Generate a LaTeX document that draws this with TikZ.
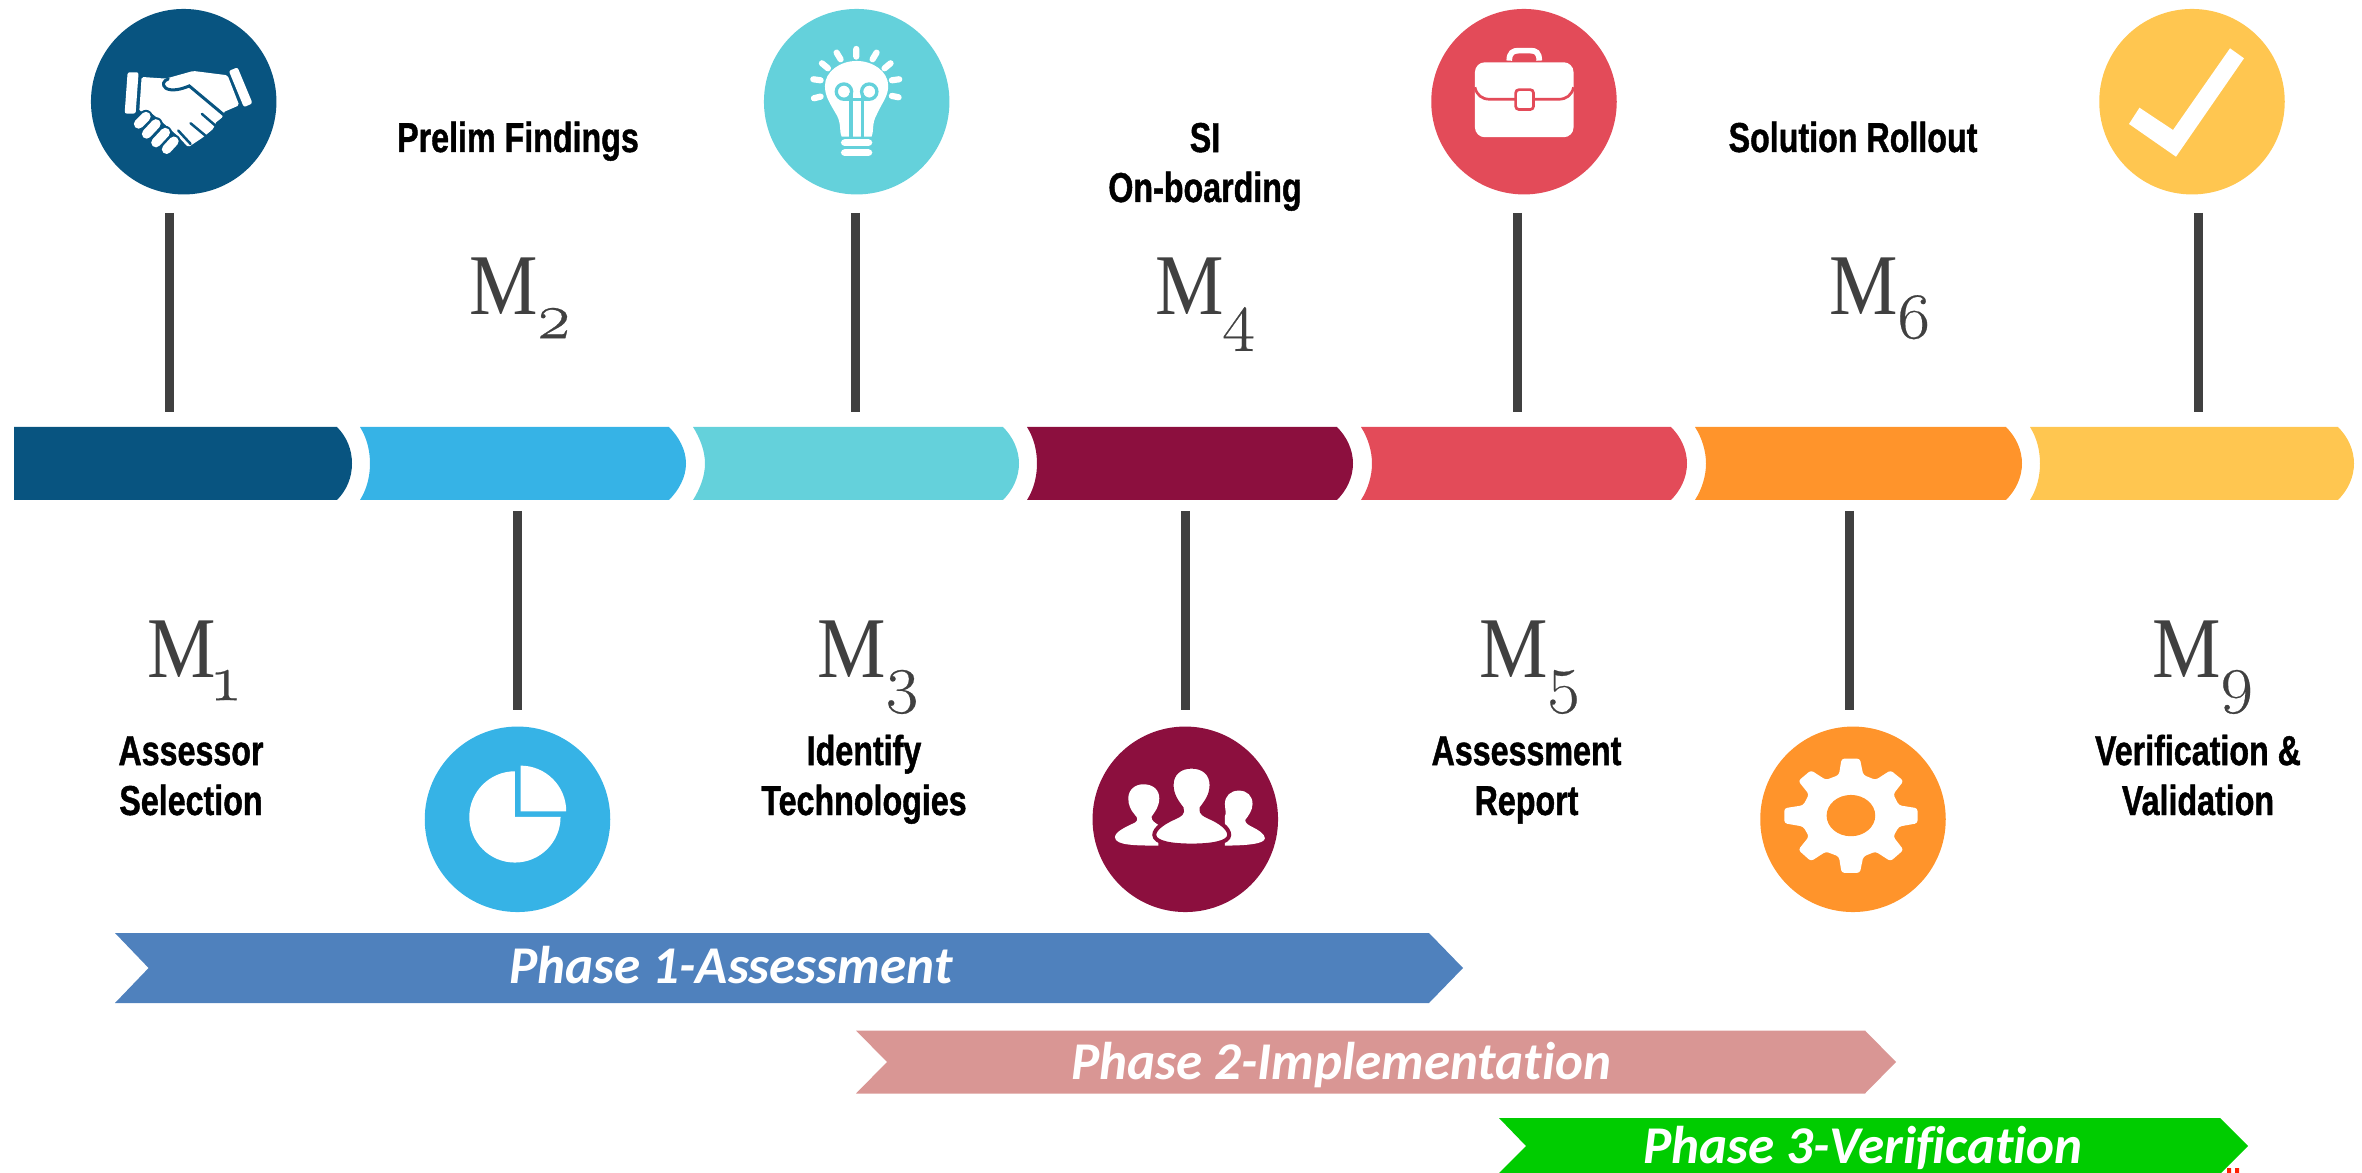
\documentclass[tikz,border=0pt]{standalone}
\usepackage{fontspec}
\newfontfamily\labelfont[FakeStretch=0.77,FakeBold=1]{Liberation Sans}
\newfontfamily\phasefont[Ligatures=NoCommon]{Carlito}
\newfontfamily\milefont[FakeStretch=0.89]{Liberation Serif}
\newfontfamily\subfont[Numbers=OldStyle,FakeStretch=1.08,FakeBold=0.4]{Latin Modern Roman}
\definecolor{deepblue}{HTML}{085480}
\definecolor{skyblue}{HTML}{36B3E6}
\definecolor{teal}{HTML}{64D1DB}
\definecolor{maroon}{HTML}{8C0F3E}
\definecolor{coral}{HTML}{E34B59}
\definecolor{tangerine}{HTML}{FF942B}
\definecolor{sunny}{HTML}{FFC650}
\definecolor{stemgray}{HTML}{404040}
\definecolor{phaseone}{HTML}{4F81BD}
\definecolor{phasetwo}{HTML}{D99694}
\definecolor{phasethree}{HTML}{00CC00}
\tikzset{
	disc/.style={circle,minimum size=1.854cm,inner sep=0pt},
	stem/.style={draw=stemgray,line width=0.9mm},
	mile/.style={anchor=base west,inner sep=0pt,text=stemgray,font=\milefont\fontsize{24.6}{28}\selectfont},
	task/.style={anchor=base,inner sep=0pt,align=center,font=\labelfont\bfseries\fontsize{11.9}{14.2}\selectfont},
	phase/.style={anchor=base,inner sep=0pt,text=white,font=\phasefont\bfseries\itshape\fontsize{15.1}{17}\selectfont},
	iconscale/.style={x=0.0333mm,y=-0.0333mm},
}
\newcommand{\sub}[1]{\kern-0.8pt\raisebox{-6.6pt}{\subfont\fontsize{18.5}{20}\selectfont #1}}
\begin{document}
\begin{tikzpicture}[x=0.01cm,y=-0.01cm]
	\useasboundingbox (0,0) rectangle (2362,1173);

	% bar
	\fill[deepblue] (14,427) -- (337,427) .. controls (347,437) and (352,450) .. (352,463.5) .. controls (352,477) and (347,490) .. (337,500) -- (14,500) -- cycle;
	\foreach \a/\b/\c/\d/\col in {360/370/669/686/skyblue,693/705/1003/1019/teal,1027/1037/1337/1353/maroon,1361/1372/1671/1687/coral,1695/1706/2006/2022/tangerine,2030/2040/2338/2354/sunny}
		\fill[\col] (\a,427) .. controls ({\a+7},438) and (\b,451) .. (\b,463.5) .. controls (\b,476) and ({\a+7},489) .. (\a,500) -- (\c,500) .. controls ({\c+10},490) and (\d,477) .. (\d,463.5) .. controls (\d,450) and ({\c+10},437) .. (\c,427) -- cycle;

	% stems
	\foreach \n/\x in {a/169.5,c/855.5,e/1517.5,g/2198}{
		\coordinate (stem\n top) at (\x,213);
		\coordinate (stem\n end) at (\x,412);
		\draw[stem] (stem\n top) -- (stem\n end);
	}
	\foreach \n/\x in {b/517.3,d/1185.5,f/1849.5}{
		\coordinate (stem\n top) at (\x,511);
		\coordinate (stem\n end) at (\x,709.5);
		\draw[stem] (stem\n top) -- (stem\n end);
	}

	% discs
	\node[disc,fill=deepblue] (hands) at (183.7,101.7) {};
	\node[disc,fill=teal] (bulb) at (856.7,101.7) {};
	\node[disc,fill=coral] (case) at (1524,101.7) {};
	\node[disc,fill=sunny] (tick) at (2192,101.7) {};
	\node[disc,fill=skyblue] (pie) at (517.5,819.3) {};
	\node[disc,fill=maroon] (people) at (1185.3,819.3) {};
	\node[disc,fill=tangerine] (gear) at (1853,819.3) {};

	% handshake
	\begin{scope}[shift={(60,0)},iconscale]
		\fill[white,rounded corners=0.6pt] (203,217) -- (236,217) -- (227,341) -- (194,341) -- cycle;
		\fill[white,rounded corners=0.6pt] (507,213) -- (533,202) -- (578,310) -- (552,322) -- cycle;
		\fill[white,rounded corners=0.5pt] (245,231) -- (318,236) -- (400,213) -- (503,226) -- (538,316) -- (490,337) -- (490,350) -- (465,370) -- (462,385) -- (430,412) -- (385,442) -- (350,405) -- (300,360) -- (265,332) -- (238,335) -- cycle;
		\draw[deepblue,line width=0.3mm,line cap=round] (492,345) -- (388,258) .. controls (365,268) and (335,275) .. (318,265) .. controls (305,255) and (310,242) .. (325,237);
		\draw[deepblue,line width=0.25mm,line cap=round] (426,342) -- (470,380) (392,370) -- (440,410) (355,392) -- (392,432);
		\foreach \xa/\ya/\xb/\yb in {258/350/236/372,288/372/260/402,316/398/288/428,342/424/320/448}{
			\draw[deepblue,line width=1.35mm,line cap=round] (\xa,\ya) -- (\xb,\yb);
			\draw[white,line width=0.95mm,line cap=round] (\xa,\ya) -- (\xb,\yb);
		}
	\end{scope}

	% bulb
	\begin{scope}[shift={(740,0)},iconscale]
		\fill[white] (305,410) .. controls (298,400) and (305,370) .. (290,345) .. controls (270,310) and (255,290) .. (255,258) .. controls (255,215) and (300,183) .. (350,183) .. controls (400,183) and (445,215) .. (445,258) .. controls (445,290) and (425,310) .. (410,345) .. controls (395,370) and (402,400) .. (395,410) -- cycle;
		\draw[teal,line width=0.33mm] (312,275) circle[radius=23] (388,275) circle[radius=23];
		\draw[teal,line width=0.33mm] (333,410) -- (333,280) (367,410) -- (367,280) (312,298) -- (388,298);
		\fill[white,rounded corners=1pt] (303,418) rectangle (397,438);
		\fill[white,rounded corners=1pt] (303,448) rectangle (397,468);
		\draw[white,line width=0.62mm,line cap=round] (349,147) -- (349,170) (290,158) -- (302,178) (246,190) -- (264,205) (220,238) -- (242,241) (222,295) -- (242,290) (410,158) -- (398,178) (452,190) -- (434,205) (478,238) -- (456,241) (476,292) -- (456,288);
	\end{scope}

	% briefcase
	\begin{scope}[shift={(1410,0)},iconscale]
		\draw[white,line width=0.57mm] (298,182) .. controls (298,158) and (310,152) .. (325,152) -- (362,152) .. controls (378,152) and (388,158) .. (388,182);
		\fill[white,rounded corners=2.8pt] (195,187) rectangle (491,412);
		\draw[coral,line width=0.27mm] (195,262) .. controls (200,285) and (215,298) .. (240,298) -- (446,298) .. controls (470,298) and (486,285) .. (491,262);
		\draw[coral,fill=white,line width=0.27mm,rounded corners=1pt] (317,269) rectangle (371,329);
	\end{scope}

	% check mark
	\fill[white] (2230,48.3) -- (2244,58.3) -- (2176,156.7) -- (2129,124) -- (2139.5,107.7) -- (2173,130) -- cycle;

	% pie chart
	\begin{scope}[shift={(400,700)},iconscale]
		\fill[white] (482,351) arc[start angle=0,end angle=270,radius=137] -- (345,351) -- cycle;
		\fill[white] (362,197) arc[start angle=-90,end angle=0,radius=137] -- (362,334) -- cycle;
	\end{scope}

	% people
	\begin{scope}[shift={(1070,700)},iconscale]
		\fill[white] (220,253) .. controls (250,253) and (268,270) .. (268,295) .. controls (268,320) and (255,335) .. (245,350) .. controls (243,362) and (255,368) .. (265,375) -- (265,437) .. controls (200,437) and (135,437) .. (135,412) .. controls (135,395) and (170,380) .. (195,368) .. controls (205,362) and (203,352) .. (195,345) .. controls (182,330) and (175,315) .. (175,295) .. controls (175,270) and (195,253) .. (220,253) -- cycle;
		\fill[white] (507,272) .. controls (532,272) and (548,288) .. (548,312) .. controls (548,332) and (535,348) .. (526,360) .. controls (526,370) and (535,375) .. (545,380) .. controls (565,390) and (585,402) .. (585,415) .. controls (585,432) and (530,437) .. (465,437) -- (465,350) .. controls (470,340) and (465,325) .. (465,312) .. controls (465,288) and (482,272) .. (507,272) -- cycle;
		\draw[maroon,fill=white,line width=0.4mm] (365,200) .. controls (400,200) and (425,220) .. (425,255) .. controls (425,285) and (410,305) .. (395,325) .. controls (392,340) and (405,345) .. (420,352) .. controls (450,365) and (478,385) .. (478,405) .. controls (478,430) and (420,437) .. (365,437) .. controls (310,437) and (253,430) .. (253,405) .. controls (253,385) and (285,365) .. (315,352) .. controls (330,345) and (340,340) .. (335,325) .. controls (320,305) and (305,285) .. (305,255) .. controls (305,220) and (330,200) .. (365,200) -- cycle;
	\end{scope}

	% gear
	\begin{scope}[shift={(1740,700)},iconscale]
		\fill[white,rounded corners=0.8pt] (305,176) -- (360,176) -- (370,225) -- (407,240) -- (452,211) -- (491,243) -- (460,283) -- (477,316) -- (533,325) -- (533,370) -- (477,380) -- (460,410) -- (491,450) -- (452,484) -- (407,455) -- (370,470) -- (360,519) -- (305,519) -- (297,470) -- (258,455) -- (213,484) -- (175,450) -- (207,410) -- (190,380) -- (133,370) -- (133,325) -- (190,316) -- (207,283) -- (175,243) -- (213,211) -- (258,240) -- (297,225) -- cycle;
		\fill[tangerine] (333,347) ellipse[x radius=73,y radius=62];
	\end{scope}

	% milestones
	\node[mile] (m1) at (147,677) {M\sub{1}};
	\node[mile] (m2) at (469,315) {M\sub{2}};
	\node[mile] (m3) at (817,677) {M\sub{3}};
	\node[mile] (m4) at (1155,315) {M\sub{4}};
	\node[mile] (m5) at (1479,677) {M\sub{5}};
	\node[mile] (m6) at (1829,315) {M\sub{6}};
	\node[mile] (m9) at (2152,677) {M\sub{9}};

	% tasks
	\node[task] (assessor) at (191,815) {Assessor\\Selection};
	\node[task] (prelim) at (518,152) {Prelim Findings};
	\node[task] (identify) at (864,815) {Identify\\Technologies};
	\node[task] (onboard) at (1205,202) {SI\\On-boarding};
	\node[task] (report) at (1526.5,815) {Assessment\\Report};
	\node[task] (rollout) at (1853,152) {Solution Rollout};
	\node[task] (verify) at (2198,815) {Verification \&\\Validation};

	% phases
	\fill[phaseone] (115,933) -- (1429,933) -- (1463,968) -- (1429,1003) -- (115,1003) -- (148.6,968) -- cycle;
	\fill[phasetwo] (856,1030.5) -- (1865,1030.5) -- (1896,1062) -- (1865,1093.5) -- (856,1093.5) -- (887,1062) -- cycle;
	\fill[phasethree] (1499,1118) -- (2220,1118) -- (2248,1146) -- (2221,1173) -- (1499,1173) -- (1526,1146) -- cycle;
	\node[phase] (phase1) at (731,983) {Phase 1-Assessment};
	\node[phase] (phase2) at (1341,1079.5) {Phase 2-Implementation};
	\node[phase] (phase3) at (1863,1163) {Phase 3-Verification};

	\fill[red!75!orange] (2227,1168) rectangle (2231,1173) (2235,1168) rectangle (2239,1173);
\end{tikzpicture}
\end{document}
